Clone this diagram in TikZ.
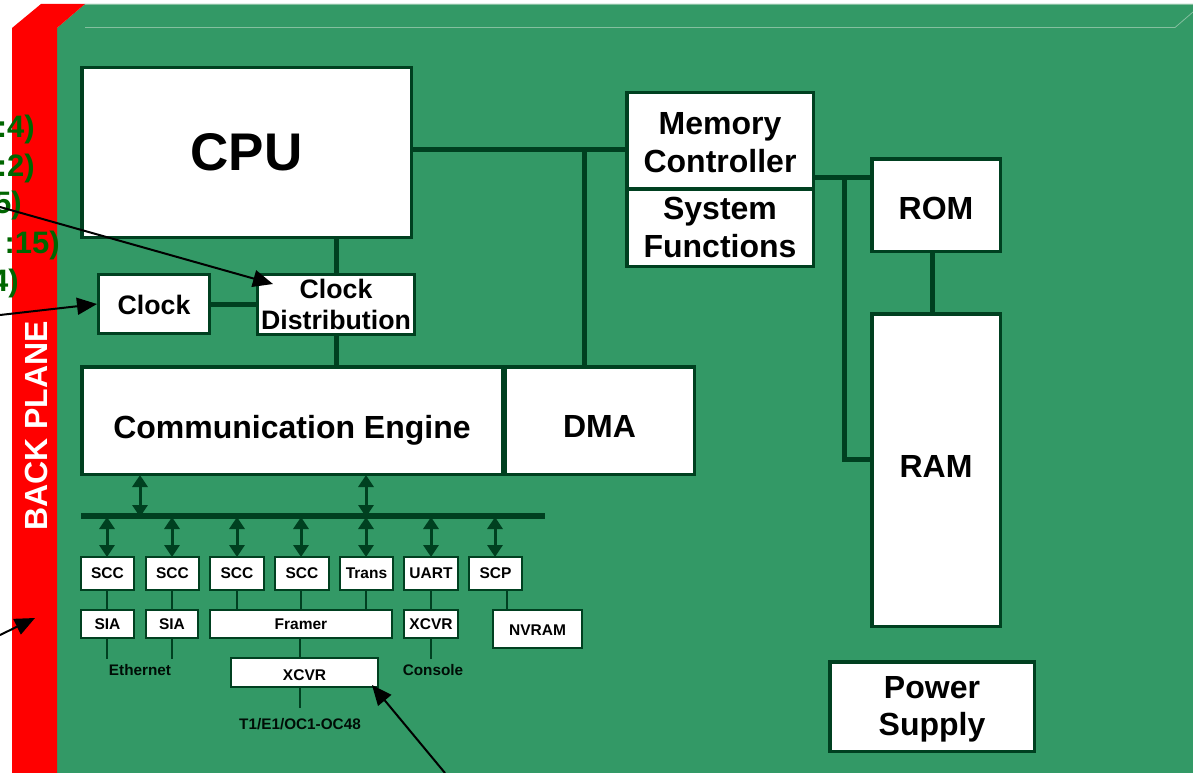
\documentclass[tikz,border=0pt]{standalone}
\usepackage{fontspec}
\setmainfont{Liberation Sans}[BoldFont={Liberation Sans Bold}]
\usetikzlibrary{arrows.meta,calc}
\definecolor{board}{HTML}{339966}
\definecolor{edgeg}{HTML}{004020}
\definecolor{lite}{HTML}{85BF9F}
\definecolor{lblg}{HTML}{006600}
\newcommand{\fs}[2]{\fontsize{#1}{#2}\selectfont\bfseries}
\newcommand{\rz}[2]{\raisebox{#1pt}[0pt][0pt]{#2}}
\newcommand{\bx}[8]{%
  \node[boxn,line width=#6pt,font=\fs#7,minimum width={(#4-#2-#6)*1pt},minimum height={(#5-#3-#6)*1pt}] (#1) at ({(#2+#4)/2},{(#3+#5)/2}) {#8};}
\tikzset{
  boxn/.style={draw=edgeg,fill=white,rectangle,inner sep=0pt,align=center,text=black},
  bigbus/.style={draw=edgeg,line width=5pt},
  thinl/.style={draw=edgeg,line width=2.2pt},
  dbl/.style={draw=edgeg,line width=3pt,{Triangle[length=12pt,width=15pt]}-{Triangle[length=12pt,width=15pt]},shorten >=-1pt,shorten <=-1pt},
  callout/.style={draw=black,line width=2pt,-{Triangle[length=20pt,width=17pt]}},
  sidelbl/.style={anchor=east,text=lblg,inner sep=0pt,font=\fs{31}{31}},
  smalllbl/.style={inner sep=0pt,text=black!80!edgeg,font=\fs{15.3}{16}}
}
\begin{document}
\begin{tikzpicture}[x=1pt,y=-1pt]
\useasboundingbox (0,0) rectangle (1193,773);
\clip (0,0) rectangle (1193,773);
\fill[white] (0,0) rectangle (1193,773);
% board
\fill[board] (57,28) -- (85,4) -- (1193,4) -- (1193,773) -- (57,773) -- cycle;
\fill[red] (12,28) -- (41,4) -- (85,4) -- (57,28) -- (57,773) -- (12,773) -- cycle;
\draw[lite,line width=.8pt] (85,27.5) -- (1175,27.5) -- (1193,12);
\draw[lite,line width=.8pt] (85,4.3) -- (1193,4.3);
\node[rotate=90,inner sep=0pt,text=white,font=\fs{32}{32}] (bp) at (36,426) {BACK PLANE};
% cropped labels
\node[sidelbl] (l1) at (35,129) {:4)};
\node[sidelbl] (l2) at (35,168) {:2)};
\node[sidelbl] (l3) at (22,205) {5)};
\node[sidelbl] (l4) at (60,245) {:15)};
\node[sidelbl] (l5) at (19,283) {4)};
% main boxes
\bx{cpu}{80}{66}{413}{239}{3.5}{{53}{53}}{CPU}
\bx{sys}{625}{187}{815}{268}{3.5}{{32}{38}}{System\\Functions}
\bx{mem}{625}{91}{815}{190}{3.5}{{32}{37.5}}{\rule{0pt}{26pt}Memory\\Controller}
\bx{rom}{870}{157}{1002}{253}{3.5}{{32}{32}}{\rz{-14.5}{ROM}}
\bx{ram}{870}{312}{1002}{628}{3.5}{{32}{32}}{\rz{-7.5}{RAM}}
\bx{pwr}{828}{660}{1036}{753}{3.5}{{32}{37}}{\rule{0pt}{27.5pt}Power\\Supply}
\bx{clk}{97}{273}{211}{335}{3}{{26.7}{31}}{\rz{-10.5}{Clock}}
\bx{dist}{256}{273}{416}{336}{3}{{26.7}{31}}{Clock\\Distribution}
\bx{comm}{80}{365}{504}{476}{3.5}{{32}{32}}{\rz{-17.5}{Communication Engine}}
\bx{dma}{503}{365}{696}{476}{3.5}{{32}{32}}{\rz{-17}{DMA}}
% small boxes
\bx{s1}{80}{556}{135}{591}{2.4}{{15.5}{16}}{SCC}
\bx{s2}{145}{556}{200}{591}{2.4}{{15.5}{16}}{SCC}
\bx{s3}{209}{556}{265}{591}{2.4}{{15.5}{16}}{SCC}
\bx{s4}{274}{556}{330}{591}{2.4}{{15.5}{16}}{SCC}
\bx{tr}{339}{556}{394}{591}{2.4}{{15.5}{16}}{Trans}
\bx{ua}{403}{556}{459}{591}{2.4}{{15.5}{16}}{UART}
\bx{sc}{468}{556}{523}{591}{2.4}{{15.5}{16}}{SCP}
\bx{si1}{80}{609}{135}{639}{2.4}{{15.5}{16}}{SIA}
\bx{si2}{145}{609}{199}{639}{2.4}{{15.5}{16}}{SIA}
\bx{fr}{209}{609}{393}{639}{2.4}{{15.5}{16}}{Framer}
\bx{xc}{403}{609}{459}{639}{2.4}{{15.5}{16}}{XCVR}
\bx{nv}{492}{609}{583}{649}{2.4}{{15.5}{16}}{\rz{-6.5}{NVRAM}}
\bx{xc2}{230}{657}{379}{688}{2.4}{{15.5}{16}}{\rz{-8}{XCVR}}
% text labels
\node[smalllbl] (eth) at (140,670) {Ethernet};
\node[smalllbl] (con) at (433,670) {Console};
\node[smalllbl] (t1) at (300,724) {T1/E1/OC1-OC48};
% named junctions and free ends
\coordinate (bL) at (81,516); \coordinate (bR) at (545,516);
\coordinate (hub) at (584,149);
\coordinate (mj) at (844,177);
\coordinate (mk) at (844,459);
\coordinate (ej1) at (107,659); \coordinate (ej2) at (172,659);
\coordinate (cj) at (431,659); \coordinate (tj) at (300,708);
% main connectors
\draw[bigbus] (dist.north) -- (dist.north |- cpu.south);
\draw[bigbus] (dist.south) -- (dist.south |- comm.north);
\draw[bigbus] (clk.east) -- (dist.west |- clk.east);
\draw[bigbus] (cpu.east |- hub) -- (mem.west |- hub);
\draw[bigbus] (hub) -- (hub |- dma.north);
\draw[bigbus] (mem.east |- mj) -- (rom.west |- mj);
\draw[bigbus,line join=miter] (mj) -- (mk) -- (ram.west |- mk);
\draw[bigbus] (932,253) -- (932,312);
\draw[draw=edgeg,line width=5.5pt] (bL) -- (bR);
% double arrows
\coordinate (ba) at (140,516); \coordinate (bb) at (366,516);
\draw[dbl] (ba |- comm.south) -- (ba);
\draw[dbl] (bb |- comm.south) -- (bb);
\draw[dbl] (107,518) -- (107,556);
\draw[dbl] (172,518) -- (172,556);
\draw[dbl] (237,518) -- (237,556);
\draw[dbl] (301,518) -- (301,556);
\draw[dbl] (366,518) -- (366,556);
\draw[dbl] (431,518) -- (431,556);
\draw[dbl] (495,518) -- (495,556);
% thin connectors
\draw[thinl] (107,591) -- (107,609);
\draw[thinl] (172,591) -- (172,609);
\draw[thinl] (237,591) -- (237,609);
\draw[thinl] (301,591) -- (301,609);
\draw[thinl] (366,591) -- (366,609);
\draw[thinl] (431,591) -- (431,609);
\draw[thinl] (507,591) -- (507,609);
\draw[thinl] (107,639) -- (ej1);
\draw[thinl] (172,639) -- (ej2);
\draw[thinl] (431,639) -- (cj);
\draw[thinl] (300,639) -- (300,657);
\draw[thinl] (300,688) -- (tj);
% callouts
\coordinate (c1a) at (0,207); \coordinate (c1b) at (273,284);
\coordinate (c2a) at (0,315); \coordinate (c3a) at (0,635);
\coordinate (c3b) at (35,618); \coordinate (c4a) at (445,773);
\coordinate (c4b) at (372,685);
\draw[callout] (c1a) -- (c1b);
\draw[callout] (c2a) -- (clk.west);
\draw[callout] (c3a) -- (c3b);
\draw[callout] (c4a) -- (c4b);
\end{tikzpicture}
\end{document}
